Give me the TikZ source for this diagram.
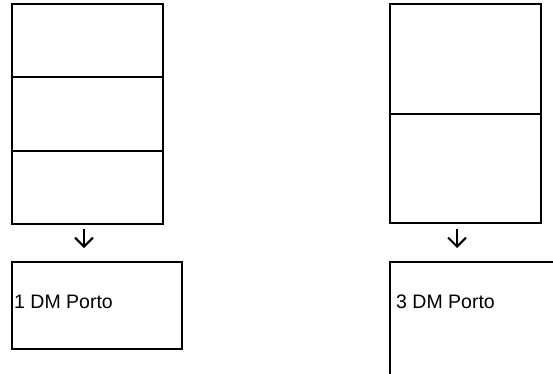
\documentclass[tikz,border=0pt]{standalone}
\usepackage{fontspec}
\setmainfont{Liberation Sans}
\usetikzlibrary{arrows.meta}
\begin{document}
\begin{tikzpicture}[x=1pt,y=-1pt,
  box/.style={draw=black,line width=1.8pt,minimum width=#1,inner sep=0pt,outer sep=0pt,fill=none},
  lbl/.style={inner sep=0pt,anchor=base west,font=\fontsize{19.5}{23}\selectfont},
  arr/.style={line width=2pt,-{Straight Barb[length=9pt,width=18pt,line width=2pt]}}]
\useasboundingbox (0,0) rectangle (553,373);
\clip (0,0) rectangle (553,373);
% left column
\node[box=151pt,minimum height=73pt] (a1) at (87.5,40.5) {};
\node[box=151pt,minimum height=74pt] (a2) at (87.5,114) {};
\node[box=151pt,minimum height=73pt] (a3) at (87.5,187.5) {};
\node[box=170pt,minimum height=87pt] (b1) at (97,305.5) {};
\node[lbl] (l1) at (14,308.5) {1 DM Porto};
\coordinate (s1) at (84,229);
\coordinate (e1) at (84,248);
\draw[arr] (s1) -- (e1);
% right column
\node[box=151pt,minimum height=110pt] (c1) at (465.5,59) {};
\node[box=151pt,minimum height=109pt] (c2) at (465.5,168.5) {};
\node[box=180pt,minimum height=128pt] (d1) at (480,326) {};
\node[lbl] (l2) at (396,308.5) {3 DM Porto};
\coordinate (s2) at (457,229);
\coordinate (e2) at (457,248);
\draw[arr] (s2) -- (e2);
\end{tikzpicture}
\end{document}
